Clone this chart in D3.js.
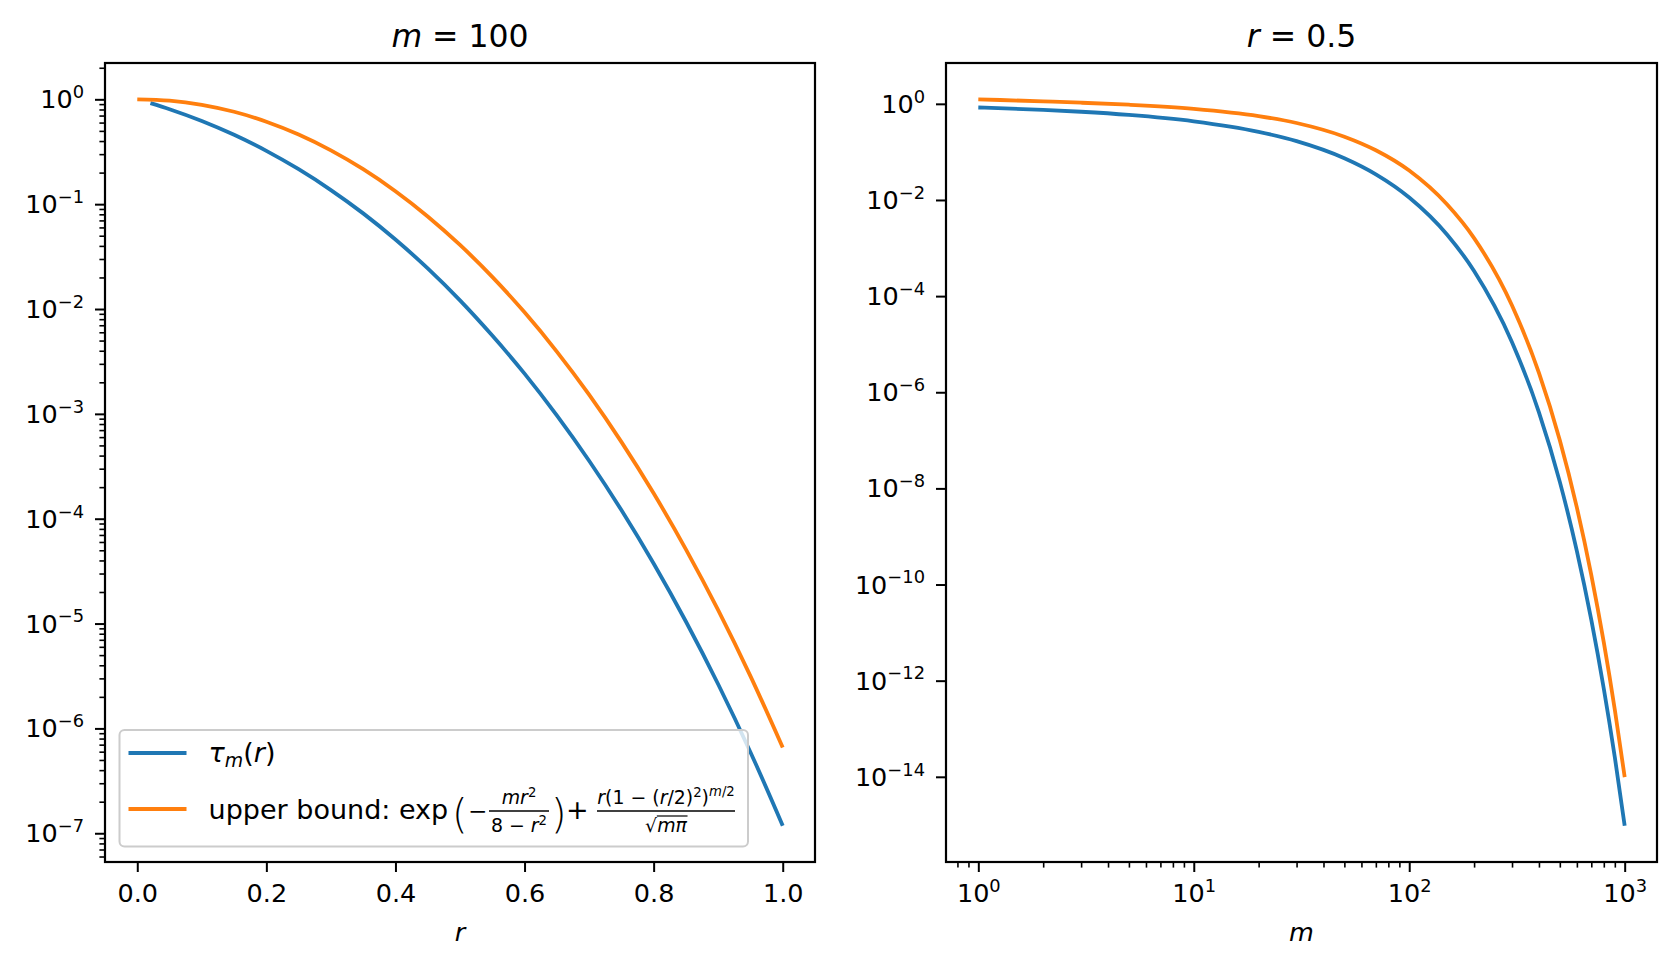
<!DOCTYPE html>
<html><head><meta charset="utf-8">
<script src="https://cdn.jsdelivr.net/npm/d3@7"></script>
<style>body{margin:0;background:#fff}text{font-family:'DejaVu Sans',sans-serif;fill:#000}</style>
</head><body><svg id="c" width="1676" height="970"></svg>
<script>
// ---------------- data ----------------
// left panel, m = 100
const rBlue = [0.0204,0.05,0.1,0.15,0.2,0.25,0.3,0.35,0.4,0.45,0.5,0.55,0.6,0.65,0.7,0.75,0.8,0.85,0.9,0.95,1.0];
const tauLeft = [0.9198,0.8050,0.6213,0.4583,0.3223,0.2153,0.1363,0.08168,0.04603,0.02439,0.01209,5.58e-3,2.42e-3,9.67e-4,3.571e-4,1.209e-4,3.734e-5,1.046e-5,2.636e-6,5.933e-7,1.181e-7];
const rOrange = [0,0.05,0.1,0.15,0.2,0.25,0.3,0.35,0.4,0.45,0.5,0.55,0.6,0.65,0.7,0.75,0.8,0.85,0.9,0.95,1.0];
const boundLeft = [1.0,0.9719,0.8874,0.7606,0.6118,0.4614,0.3259,0.2154,0.1329,0.07637,0.04084,0.02026,9.292e-3,3.929e-3,1.525e-3,5.410e-4,1.747e-4,5.106e-5,1.343e-5,3.154e-6,6.568e-7];
// right panel, r = 0.5
const mVals = [1,2,3,5,10,20,30,50,70,100,150,200,300,400,500,600,700,800,900,1000];
const tauRight = [0.8391,0.75,0.6850,0.5887,0.4332,0.2618,0.1676,0.07386,0.03417,0.01127,1.894e-3,3.330e-4,1.100e-5,3.821e-7,1.366e-8,4.966e-10,1.830e-11,6.808e-13,2.552e-14,9.623e-16];
const boundRight = [1.2414,1.1245,1.0556,0.9584,0.7889,0.5577,0.3995,0.2072,0.1081,0.04084,8.020e-3,1.609e-3,6.372e-5,2.523e-6,1.002e-7,3.972e-9,1.578e-10,6.266e-12,2.489e-13,9.863e-15];
// ticks
const xTicksLeft = [0,0.2,0.4,0.6,0.8,1.0];
const yExpLeft = [0,-1,-2,-3,-4,-5,-6,-7];
const yExpRight = [0,-2,-4,-6,-8,-10,-12,-14];
const xExpRight = [0,1,2,3];
const titles = ["m = 100","r = 0.5"];
const xLabels = ["r","m"];
const legendLabels = ["τ_m(r)","upper bound"];
const colors = ["#1f77b4","#ff7f0e"];

// ---------------- layout ----------------
const F = 25.5, FL = 27, FT = 31.5;
const svg = d3.select('#c');
const P = [{x0:105,x1:815,y0:63,y1:862},{x0:946,x1:1657,y0:63,y1:862}];
function logExt(arrs){let lo=Infinity,hi=-Infinity;arrs.forEach(a=>a.forEach(v=>{const l=Math.log10(v);lo=Math.min(lo,l);hi=Math.max(hi,l);}));const s=hi-lo;return [Math.pow(10,lo-0.05*s),Math.pow(10,hi+0.05*s)];}
const minus = e => (e<0?'\u2212':'')+Math.abs(e);

const xL = d3.scaleLinear().domain([-0.05,1.05]).range([P[0].x0,P[0].x1]);
const yL = d3.scaleLog().domain(logExt([tauLeft,boundLeft])).range([P[0].y1,P[0].y0]);
const xR = d3.scaleLog().domain(logExt([mVals])).range([P[1].x0,P[1].x1]);
const yR = d3.scaleLog().domain(logExt([tauRight,boundRight])).range([P[1].y1,P[1].y0]);

const defs = svg.append('defs');
P.forEach((p,i)=>defs.append('clipPath').attr('id','clip'+i).append('rect').attr('x',p.x0).attr('y',p.y0).attr('width',p.x1-p.x0).attr('height',p.y1-p.y0));

function styleAxis(g){g.select('.domain').remove();g.selectAll('.tick line').attr('stroke','#000').attr('stroke-width',2);g.selectAll('.tick text').attr('font-family','DejaVu Sans').attr('fill','#000');}
function minorLog(scale){const [a,b]=scale.domain().map(Math.log10);const out=[];for(let d=Math.floor(a)-1;d<=Math.ceil(b);d++){for(let k=2;k<=9;k++){const v=k*Math.pow(10,d);const l=Math.log10(v);if(l>=a&&l<=b)out.push(v);}}return out;}
function supText(sel,exp){sel.text(null);sel.append('tspan').text('10');sel.append('tspan').attr('font-size',F*0.7).attr('dy',-F*0.4).text(minus(exp));}

// ---------------- lines ----------------
const line = (xs,ys,X,Y)=>d3.line().x((d,i)=>X(xs[i])).y((d,i)=>Y(ys[i])).curve(d3.curveMonotoneX)(ys);
const g0 = svg.append('g').attr('clip-path','url(#clip0)');
g0.append('path').attr('d',line(rBlue,tauLeft,xL,yL)).attr('fill','none').attr('stroke',colors[0]).attr('stroke-width',3.8);
g0.append('path').attr('d',line(rOrange,boundLeft,xL,yL)).attr('fill','none').attr('stroke',colors[1]).attr('stroke-width',3.8);
const g1 = svg.append('g').attr('clip-path','url(#clip1)');
g1.append('path').attr('d',line(mVals,tauRight,xR,yR)).attr('fill','none').attr('stroke',colors[0]).attr('stroke-width',3.8);
g1.append('path').attr('d',line(mVals,boundRight,xR,yR)).attr('fill','none').attr('stroke',colors[1]).attr('stroke-width',3.8);

// ---------------- axes ----------------
const ax0 = svg.append('g').attr('transform',`translate(0,${P[0].y1})`).call(d3.axisBottom(xL).tickValues(xTicksLeft).tickSize(10).tickFormat(d3.format('.1f')));
styleAxis(ax0); ax0.selectAll('.tick text').attr('y',40).attr('dy',0).attr('font-size',F);
const ay0 = svg.append('g').attr('transform',`translate(${P[0].x0},0)`).call(d3.axisLeft(yL).tickValues(yExpLeft.map(e=>Math.pow(10,e))).tickSize(10));
styleAxis(ay0); ay0.selectAll('.tick text').attr('x',-21).attr('dy',8.5).attr('font-size',F).each(function(d){supText(d3.select(this),Math.round(Math.log10(d)));});
const ay0m = svg.append('g').attr('transform',`translate(${P[0].x0},0)`).call(d3.axisLeft(yL).tickValues(minorLog(yL)).tickSize(5.6).tickFormat(''));
styleAxis(ay0m); ay0m.selectAll('.tick line').attr('stroke-width',1.6);
const ax1 = svg.append('g').attr('transform',`translate(0,${P[1].y1})`).call(d3.axisBottom(xR).tickValues(xExpRight.map(e=>Math.pow(10,e))).tickSize(10));
styleAxis(ax1); ax1.selectAll('.tick text').attr('y',40).attr('dy',0).attr('font-size',F).each(function(d){supText(d3.select(this),Math.round(Math.log10(d)));});
const ax1m = svg.append('g').attr('transform',`translate(0,${P[1].y1})`).call(d3.axisBottom(xR).tickValues(minorLog(xR)).tickSize(5.6).tickFormat(''));
styleAxis(ax1m); ax1m.selectAll('.tick line').attr('stroke-width',1.6);
const ay1 = svg.append('g').attr('transform',`translate(${P[1].x0},0)`).call(d3.axisLeft(yR).tickValues(yExpRight.map(e=>Math.pow(10,e))).tickSize(10));
styleAxis(ay1); ay1.selectAll('.tick text').attr('x',-21).attr('dy',8.5).attr('font-size',F).each(function(d){supText(d3.select(this),Math.round(Math.log10(d)));});

P.forEach(p=>svg.append('rect').attr('x',p.x0).attr('y',p.y0).attr('width',p.x1-p.x0).attr('height',p.y1-p.y0).attr('fill','none').attr('stroke','#000').attr('stroke-width',2.2));

titles.forEach((t,i)=>{const p=P[i];const [a,b]=t.split(' = ');const tx=svg.append('text').attr('x',(p.x0+p.x1)/2).attr('y',47).attr('text-anchor','middle').attr('font-size',FT);
  tx.append('tspan').attr('font-style','italic').text(a);tx.append('tspan').text(' = '+b);});
xLabels.forEach((t,i)=>{const p=P[i];svg.append('text').attr('x',(p.x0+p.x1)/2).attr('y',941).attr('text-anchor','middle').attr('font-size',F).attr('font-style','italic').text(t);});

// ---------------- legend ----------------
const lg = svg.append('g');
lg.append('rect').attr('x',119.5).attr('y',730).attr('width',628.5).attr('height',116.5).attr('rx',5).attr('fill','#fff').attr('fill-opacity',0.8).attr('stroke','#cccccc').attr('stroke-width',2);
[753,809].forEach((y,i)=>lg.append('line').attr('x1',128.5).attr('x2',186.5).attr('y1',y).attr('y2',y).attr('stroke',colors[i]).attr('stroke-width',3.8));
const t1 = lg.append('text').attr('x',208.6).attr('y',762).attr('font-size',FL);
t1.append('tspan').attr('font-style','italic').text('τ');
t1.append('tspan').attr('font-style','italic').attr('font-size',FL*0.7).attr('dy',5).text('m');
t1.append('tspan').attr('dy',-5).text('(');
t1.append('tspan').attr('font-style','italic').text('r');
t1.append('tspan').text(')');
const base2 = 819;
lg.append('text').attr('x',208.6).attr('y',base2).attr('font-size',FL).text(legendLabels[1]+': exp');
lg.append('text').attr('x',452).attr('y',828).attr('font-size',40).attr('font-weight',200).text('(');
lg.append('text').attr('x',468).attr('y',base2).attr('font-size',FL*0.85).text('\u2212');
const fs=FL*0.7;
function frac(cx,x1,x2,numFn,denFn){
  lg.append('line').attr('x1',x1).attr('x2',x2).attr('y1',811).attr('y2',811).attr('stroke','#000').attr('stroke-width',1.3);
  const n=lg.append('text').attr('x',cx).attr('y',804).attr('font-size',fs).attr('text-anchor','middle'); numFn(n);
  const d=lg.append('text').attr('x',cx).attr('y',832).attr('font-size',fs).attr('text-anchor','middle'); denFn(d);
  return d;
}
frac(519,489,549,n=>{n.append('tspan').attr('font-style','italic').text('mr');n.append('tspan').attr('font-size',fs*0.7).attr('dy',-7).text('2');},
  d=>{d.append('tspan').text('8 \u2212 ');d.append('tspan').attr('font-style','italic').text('r');d.append('tspan').attr('font-size',fs*0.7).attr('dy',-7).text('2');});
lg.append('text').attr('x',551).attr('y',828).attr('font-size',40).attr('font-weight',200).text(')');
lg.append('text').attr('x',566).attr('y',base2).attr('font-size',FL).text('+');
const den2 = frac(666,597,735,n=>{n.append('tspan').attr('font-style','italic').text('r');n.append('tspan').text('(1 \u2212 (');n.append('tspan').attr('font-style','italic').text('r');n.append('tspan').text('/2)');
  n.append('tspan').attr('font-size',fs*0.7).attr('dy',-7).text('2');n.append('tspan').attr('dy',7).text(')');n.append('tspan').attr('font-size',fs*0.7).attr('font-style','italic').attr('dy',-8).text('m');n.append('tspan').attr('font-size',fs*0.7).text('/2');},
  d=>{d.append('tspan').text('\u221A');d.append('tspan').attr('font-style','italic').text('mπ');});
const bb = den2.node().getBBox();
lg.append('line').attr('x1',bb.x+fs*0.62).attr('x2',bb.x+bb.width).attr('y1',bb.y+2).attr('y2',bb.y+2).attr('stroke','#000').attr('stroke-width',1.2);
</script></body></html>
